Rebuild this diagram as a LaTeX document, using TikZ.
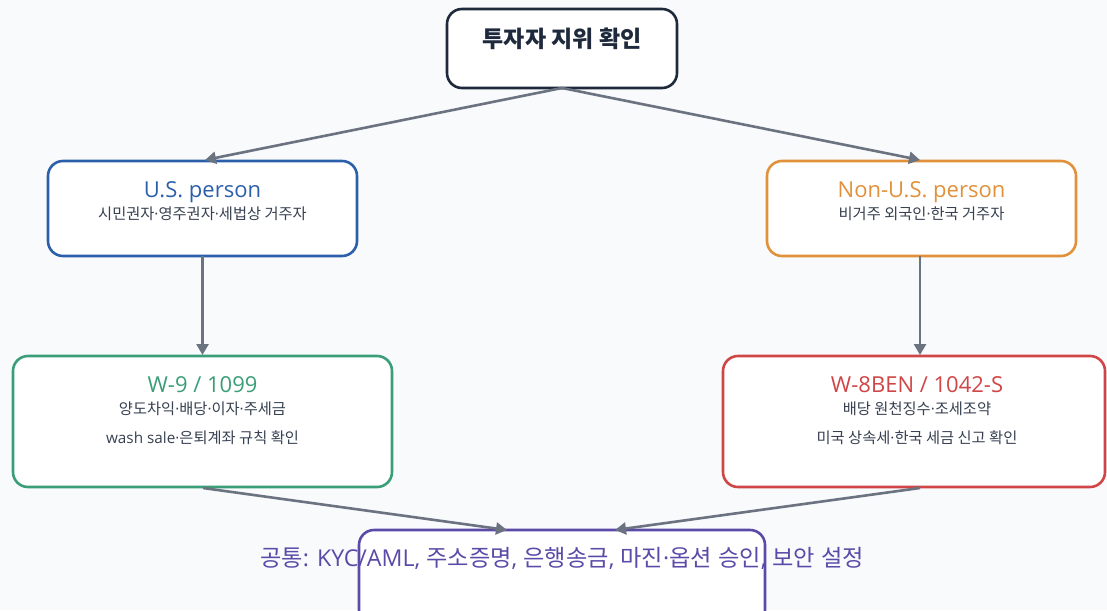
\documentclass[tikz,border=0pt]{standalone}
\usepackage{fontspec}
\setmainfont{Noto Sans CJK KR}
\newfontfamily\lat{Open Sans}
\newcommand{\md}{{\lat ·}}
\usetikzlibrary{arrows.meta}
\definecolor{bg}{HTML}{F8FAFC}
\definecolor{navy}{HTML}{1E293B}
\definecolor{usblue}{HTML}{2C5FAA}
\definecolor{nusorange}{HTML}{E0913A}
\definecolor{wgreen}{HTML}{3A9E78}
\definecolor{wred}{HTML}{D04545}
\definecolor{cpurple}{HTML}{5B4AA8}
\definecolor{arrowgray}{HTML}{6B7280}
\definecolor{subgray}{HTML}{374151}
\tikzset{
  boxstyle/.style={draw, line width=2.6pt, rounded corners=15pt, fill=white, inner sep=0pt},
  conn/.style={draw=arrowgray, line width=2.6pt, -{Triangle[length=11pt,width=12pt]}},
  ttl/.style={anchor=base, inner sep=0pt, font=\lat\fontsize{22}{25}\selectfont},
  sub/.style={anchor=base, inner sep=0pt, text=subgray, font=\fontsize{15.3}{18}\selectfont},
}
\begin{document}
\begin{tikzpicture}[x=1pt,y=-1pt]
\clip (0,0) rectangle (1107,610);
\fill[bg] (0,0) rectangle (1107,610);
% boxes
\node[boxstyle, draw=navy, minimum width=230pt, minimum height=79pt] (top) at (562,48.5) {};
\node[boxstyle, draw=usblue, minimum width=309pt, minimum height=95pt] (us) at (202.5,208.5) {};
\node[boxstyle, draw=nusorange, minimum width=309pt, minimum height=95pt] (nus) at (921.5,208.5) {};
\node[boxstyle, draw=wgreen, minimum width=379pt, minimum height=131pt] (w9) at (202.5,421.5) {};
\node[boxstyle, draw=wred, minimum width=382pt, minimum height=131pt] (w8) at (914,421.5) {};
\node[boxstyle, draw=cpurple, minimum width=406pt, minimum height=95pt] (com) at (562,577.5) {};
% texts
\node[anchor=base, inner sep=0pt, font=\fontsize{23}{26}\selectfont\bfseries, text=navy] (ttop) at (562,48) {투자자 지위 확인};
\node[ttl, text=usblue] (tus) at (202.5,197) {U.S. person};
\node[sub] (sus) at (202.5,219) {시민권자\md 영주권자\md 세법상 거주자};
\node[ttl, text=nusorange] (tnus) at (921.5,197) {Non-U.S. person};
\node[sub] (snus) at (921.5,219) {비거주 외국인\md 한국 거주자};
\node[ttl, text=wgreen] (tw9) at (202.5,392) {W-9 / 1099};
\node[sub] (sw9a) at (202.5,414.5) {양도차익\md 배당\md 이자\md 주세금};
\node[sub] (sw9b) at (202.5,443.5) {{\lat wash sale·}은퇴계좌 규칙 확인};
\node[ttl, text=wred] (tw8) at (917,392) {W-8BEN / 1042-S};
\node[sub] (sw8a) at (917,414.5) {배당 원천징수\md 조세조약};
\node[sub] (sw8b) at (917,443.5) {미국 상속세\md 한국 세금 신고 확인};
\node[anchor=base, inner sep=0pt, text=cpurple, font=\fontsize{23.2}{26}\selectfont] (tcom) at (562,566) {공통{\lat : KYC/AML, }주소증명{\lat , }은행송금{\lat , }마진\md 옵션{\lat\ }승인{\lat , }보안{\lat\ }설정};
% connectors
\coordinate (topb) at (562,88);
\coordinate (usin) at (205,160);
\coordinate (nusin) at (920,160);
\coordinate (usb) at (202.5,256);
\coordinate (w9t) at (202.5,355);
\coordinate (nusb) at (920,256);
\coordinate (w8t) at (920,355);
\coordinate (w9b) at (203,488);
\coordinate (w8b) at (920,488);
\coordinate (comL) at (507,530);
\coordinate (comR) at (615,530);
\draw[conn] (topb) -- (usin);
\draw[conn] (topb) -- (nusin);
\draw[conn] (usb) -- (w9t);
\draw[conn] (nusb) -- (w8t);
\draw[conn] (w9b) -- (comL);
\draw[conn] (w8b) -- (comR);
\end{tikzpicture}
\end{document}
